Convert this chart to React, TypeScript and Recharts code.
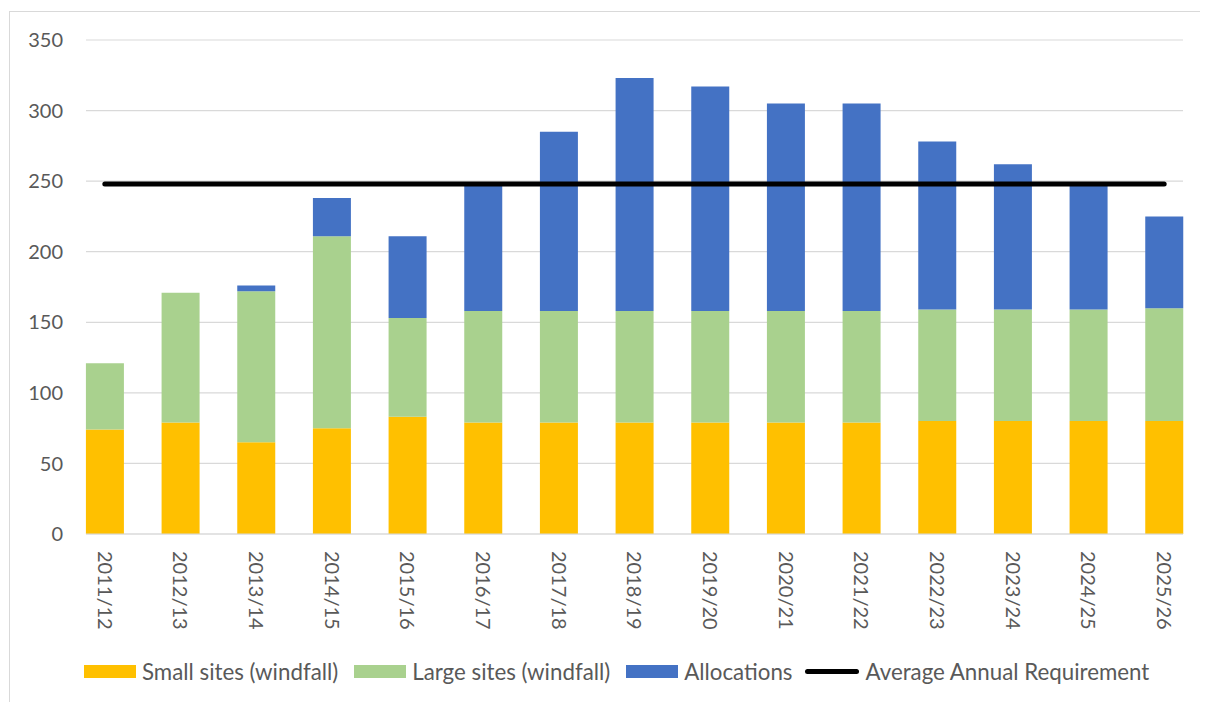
import React from 'react';
import { ComposedChart, Bar, Line, XAxis, YAxis, CartesianGrid, Legend } from 'recharts';

const categories = [
  '2011/12', '2012/13', '2013/14', '2014/15', '2015/16', '2016/17', '2017/18', '2018/19',
  '2019/20', '2020/21', '2021/22', '2022/23', '2023/24', '2024/25', '2025/26',
];
const smallSites = [74, 79, 65, 75, 83, 79, 79, 79, 79, 79, 79, 80, 80, 80, 80];
const largeSites = [47, 92, 107, 136, 70, 79, 79, 79, 79, 79, 79, 79, 79, 79, 80];
const allocations = [0, 0, 4, 27, 58, 89, 127, 165, 159, 147, 147, 119, 103, 88, 65];
const requirement = [248, 248, 248, 248, 248, 248, 248, 248, 248, 248, 248, 248, 248, 248, 248];
const yTicks = [0, 50, 100, 150, 200, 250, 300, 350];

const seriesNames = ['Small sites (windfall)', 'Large sites (windfall)', 'Allocations', 'Average Annual Requirement'];
const seriesColors = ['#FFC000', '#A9D18E', '#4472C4', '#000000'];

const data = categories.map((c, i) => ({
  year: c,
  small: smallSites[i],
  large: largeSites[i],
  alloc: allocations[i],
  req: requirement[i],
}));

const FONT = 'Lato, "Open Sans", sans-serif';
const TEXT = '#595959';
const GRID = '#d9d9d9';

const XTick = (props: any) => {
  const { x, y, payload } = props;
  return (
    <text
      x={x}
      y={y}
      transform={`rotate(90, ${x}, ${y})`}
      textAnchor="start"
      dy="0.36em"
      fill={TEXT}
      fontSize={20}
      fontFamily={FONT}
    >
      {payload.value}
    </text>
  );
};

const LegendContent = () => (
  <div
    style={{
      display: 'flex',
      alignItems: 'center',
      paddingLeft: 74,
      height: 30,
      fontFamily: FONT,
      fontSize: 22.3,
      color: TEXT,
    }}
  >
    {seriesNames.map((name, i) => (
      <div key={name} style={{ display: 'flex', alignItems: 'center', marginRight: i === 2 ? 13 : 16 }}>
        {i === 3 ? (
          <div style={{ width: 54, height: 5, background: seriesColors[i], borderRadius: 3 }} />
        ) : (
          <div style={{ width: 52, height: 13, background: seriesColors[i] }} />
        )}
        <span style={{ marginLeft: 6, whiteSpace: 'nowrap' }}>{name}</span>
      </div>
    ))}
  </div>
);

export default function App() {
  return (
    <div
      style={{
        marginLeft: 1,
        marginTop: 3,
        borderLeft: `1px solid ${GRID}`,
        borderTop: `1px solid ${GRID}`,
        width: 1198,
        height: 690,
        fontFamily: FONT,
      }}
    >
      <style>{`html,body{overflow:hidden;}`}</style>
      <ComposedChart
        width={1198}
        height={690}
        data={data}
        margin={{ top: 28, right: 25, left: 0, bottom: 16 }}
        barCategoryGap="25%"
      >
        <CartesianGrid vertical={false} stroke={GRID} strokeWidth={1.2} />
        <XAxis
          dataKey="year"
          interval={0}
          tick={<XTick />}
          tickLine={false}
          tickSize={0}
          tickMargin={17}
          axisLine={{ stroke: GRID, strokeWidth: 1.2 }}
          height={122}
          padding={{ left: -19, right: -19 }}
        />
        <YAxis
          domain={[0, 350]}
          ticks={yTicks}
          interval={0}
          width={76}
          tickSize={0}
          tickMargin={23}
          tickLine={false}
          axisLine={false}
          tick={{ fill: TEXT, fontSize: 20, fontFamily: FONT }}
        />
        <Legend verticalAlign="bottom" height={30} wrapperStyle={{ left: 0, width: 1198 }} content={<LegendContent />} />
        <Bar dataKey="small" name={seriesNames[0]} stackId="a" fill={seriesColors[0]} isAnimationActive={false} />
        <Bar dataKey="large" name={seriesNames[1]} stackId="a" fill={seriesColors[1]} isAnimationActive={false} />
        <Bar dataKey="alloc" name={seriesNames[2]} stackId="a" fill={seriesColors[2]} isAnimationActive={false} />
        <Line
          dataKey="req"
          name={seriesNames[3]}
          type="linear"
          stroke={seriesColors[3]}
          strokeWidth={5}
          strokeLinecap="round"
          dot={false}
          activeDot={false}
          legendType="plainline"
          isAnimationActive={false}
        />
      </ComposedChart>
    </div>
  );
}
